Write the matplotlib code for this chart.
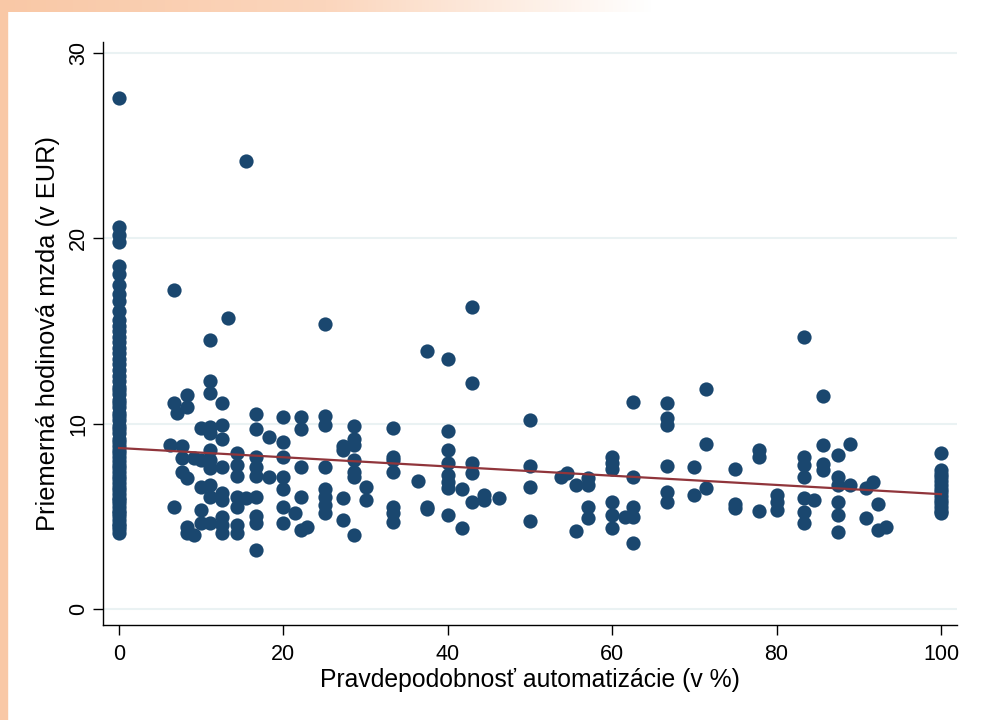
import numpy as np
import matplotlib
matplotlib.use("Agg")
import matplotlib.pyplot as plt
from matplotlib.colors import LinearSegmentedColormap

plt.rcParams['font.family'] = ['Liberation Sans', 'DejaVu Sans']

# automation probability (%) of each column of points and the wages in it
col_prob = [0, 6.25, 6.7, 7.1, 7.7, 8.3, 9.1, 10, 11.1, 12.5, 13.3, 14.3, 15.4,
            16.7, 18.2, 20, 21.4, 22.2, 22.9, 25, 27.3, 28.6, 30, 33.3, 36.4,
            37.5, 40, 41.7, 42.9, 44.4, 46.2, 50, 53.8, 54.5, 55.6, 57.1, 60,
            61.5, 62.5, 66.7, 70, 71.4, 75, 77.8, 80, 83.3, 84.6, 85.7, 87.5,
            88.9, 90.9, 91.7, 92.3, 93.3, 100]
col_wages = [
    [4.1, 4.3, 4.5, 4.6, 4.8, 5.0, 5.2, 5.3, 5.5, 5.7, 5.9, 6.0, 6.2, 6.4, 6.6,
     6.8, 7.0, 7.2, 7.4, 7.6, 7.8, 8.0, 8.2, 8.4, 8.6, 8.8, 9.0, 9.2, 9.5, 9.7,
     9.9, 10.2, 10.4, 10.6, 10.9, 11.1, 11.3, 11.6, 11.8, 12.0, 12.3, 12.6,
     12.9, 13.2, 13.5, 13.8, 14.1, 14.4, 14.7, 15.0, 15.3, 15.6, 16.1, 16.6,
     17.0, 17.5, 18.1, 18.5, 19.8, 20.2, 20.6, 27.6],
    [8.85],
    [17.2, 11.1, 5.5],
    [10.6],
    [8.8, 8.15, 7.4],
    [11.55, 10.9, 7.07, 4.43, 4.1],
    [8.15, 4.0],
    [9.77, 8.04, 6.6, 5.34, 4.64],
    [14.5, 12.3, 11.65, 9.82, 9.5, 8.58, 8.04, 7.6, 6.7, 6.05, 4.64],
    [11.1, 9.93, 9.17, 7.66, 6.25, 5.9, 4.97, 4.53, 4.1],
    [15.7],
    [8.4, 7.8, 7.2, 6.05, 5.5, 4.53, 4.1],
    [24.2, 6.0],
    [10.55, 9.7, 8.2, 7.66, 7.2, 6.05, 5.0, 4.64, 3.2],
    [9.3, 7.1],
    [10.35, 9.0, 8.2, 7.1, 6.5, 5.5, 4.64],
    [5.2],
    [10.35, 9.7, 7.66, 6.05, 4.26],
    [4.43],
    [15.4, 10.4, 9.93, 7.66, 6.47, 6.05, 5.6, 5.18],
    [8.8, 8.58, 6.0, 4.8],
    [9.88, 9.17, 8.85, 8.04, 7.4, 7.1, 4.0],
    [6.6, 5.9],
    [9.77, 8.2, 8.04, 7.4, 5.5, 5.18, 4.7],
    [6.9],
    [13.9, 5.5, 5.4],
    [13.5, 9.6, 8.58, 7.88, 7.23, 6.85, 6.53, 5.07],
    [6.47, 4.37],
    [16.3, 12.2, 7.88, 7.34, 5.77],
    [6.15, 5.88],
    [5.99],
    [10.2, 7.72, 6.58, 4.75],
    [7.12],
    [7.34],
    [6.69, 4.2],
    [7.07, 6.69, 5.5, 4.9],
    [8.2, 7.88, 7.55, 5.77, 5.07, 4.37],
    [4.97],
    [11.17, 7.12, 5.5, 4.97, 3.56],
    [11.1, 10.3, 9.93, 7.72, 6.3, 5.77],
    [7.66, 6.15],
    [11.87, 8.9, 6.53],
    [7.55, 5.67, 5.45],
    [8.58, 8.2, 5.29],
    [6.15, 5.77, 5.34],
    [14.7, 8.2, 7.8, 7.12, 6.0, 5.23, 4.64],
    [5.88],
    [11.5, 8.85, 7.82, 7.5],
    [8.3, 7.12, 6.69, 5.77, 5.07, 4.15],
    [8.9, 6.69],
    [6.53, 4.9],
    [6.85],
    [5.67, 4.26],
    [4.43],
    [8.4, 7.5, 7.3, 7.1, 6.9, 6.7, 6.5, 6.3, 6.1, 5.9, 5.7, 5.5, 5.3, 5.2],
]

# fitted line
fit_prob = [0, 100]
fit_wage = [8.69, 6.2]

x_ticks = [0, 20, 40, 60, 80, 100]
y_ticks = [0, 10, 20, 30]

xs = np.concatenate([[p] * len(w) for p, w in zip(col_prob, col_wages)])
ys = np.concatenate(col_wages)

fig = plt.figure(figsize=(9.81, 7.2), dpi=100)
fig.patch.set_facecolor("white")

# slide background peeking out at the left and top
peach = "#f9c8a6"
fig.patches.append(plt.Rectangle((0, 0), 7 / 981, 1, transform=fig.transFigure,
                                 color=peach, zorder=0))
bg = fig.add_axes([0, 1 - 12 / 720, 1, 12 / 720])
grad = np.linspace(0, 1, 256)
cmap = LinearSegmentedColormap.from_list("bg", [peach, "#fbd6bd", "#ffffff", "#ffffff"])
bg.imshow(grad[np.newaxis, :], aspect="auto", cmap=cmap)
bg.axis("off")

ax = fig.add_axes([103 / 981, 95 / 720, 854 / 981, 583 / 720])
ax.set_facecolor("white")

ax.scatter(xs, ys, s=105, color="#1a476f", linewidths=0, zorder=3)
ax.plot(fit_prob, fit_wage, color="#90353b", linewidth=1.6, zorder=4)

ax.set_xlim(-1.95, 101.95)
ax.set_ylim(-0.86, 30.6)
ax.set_xticks(x_ticks)
ax.set_yticks(y_ticks)
ax.grid(axis="y", color="#eaf2f3", linewidth=1.5, zorder=0)
ax.grid(axis="x", visible=False)

for side in ["top", "right"]:
    ax.spines[side].set_visible(False)
for side in ["left", "bottom"]:
    ax.spines[side].set_color("black")
    ax.spines[side].set_linewidth(1.0)

ax.tick_params(axis="both", direction="out", length=7, width=1, labelsize=15.5,
               colors="black")
ax.tick_params(axis="x", pad=7)
ax.tick_params(axis="y", pad=3)
plt.setp(ax.get_yticklabels(), rotation=90, va="center")

ax.set_xlabel("Pravdepodobnosť automatizácie (v %)", fontsize=17.8, labelpad=2)
ax.set_ylabel("Priemerná hodinová mzda (v EUR)", fontsize=18.3, labelpad=6)

fig.savefig("out.png", dpi=100)
